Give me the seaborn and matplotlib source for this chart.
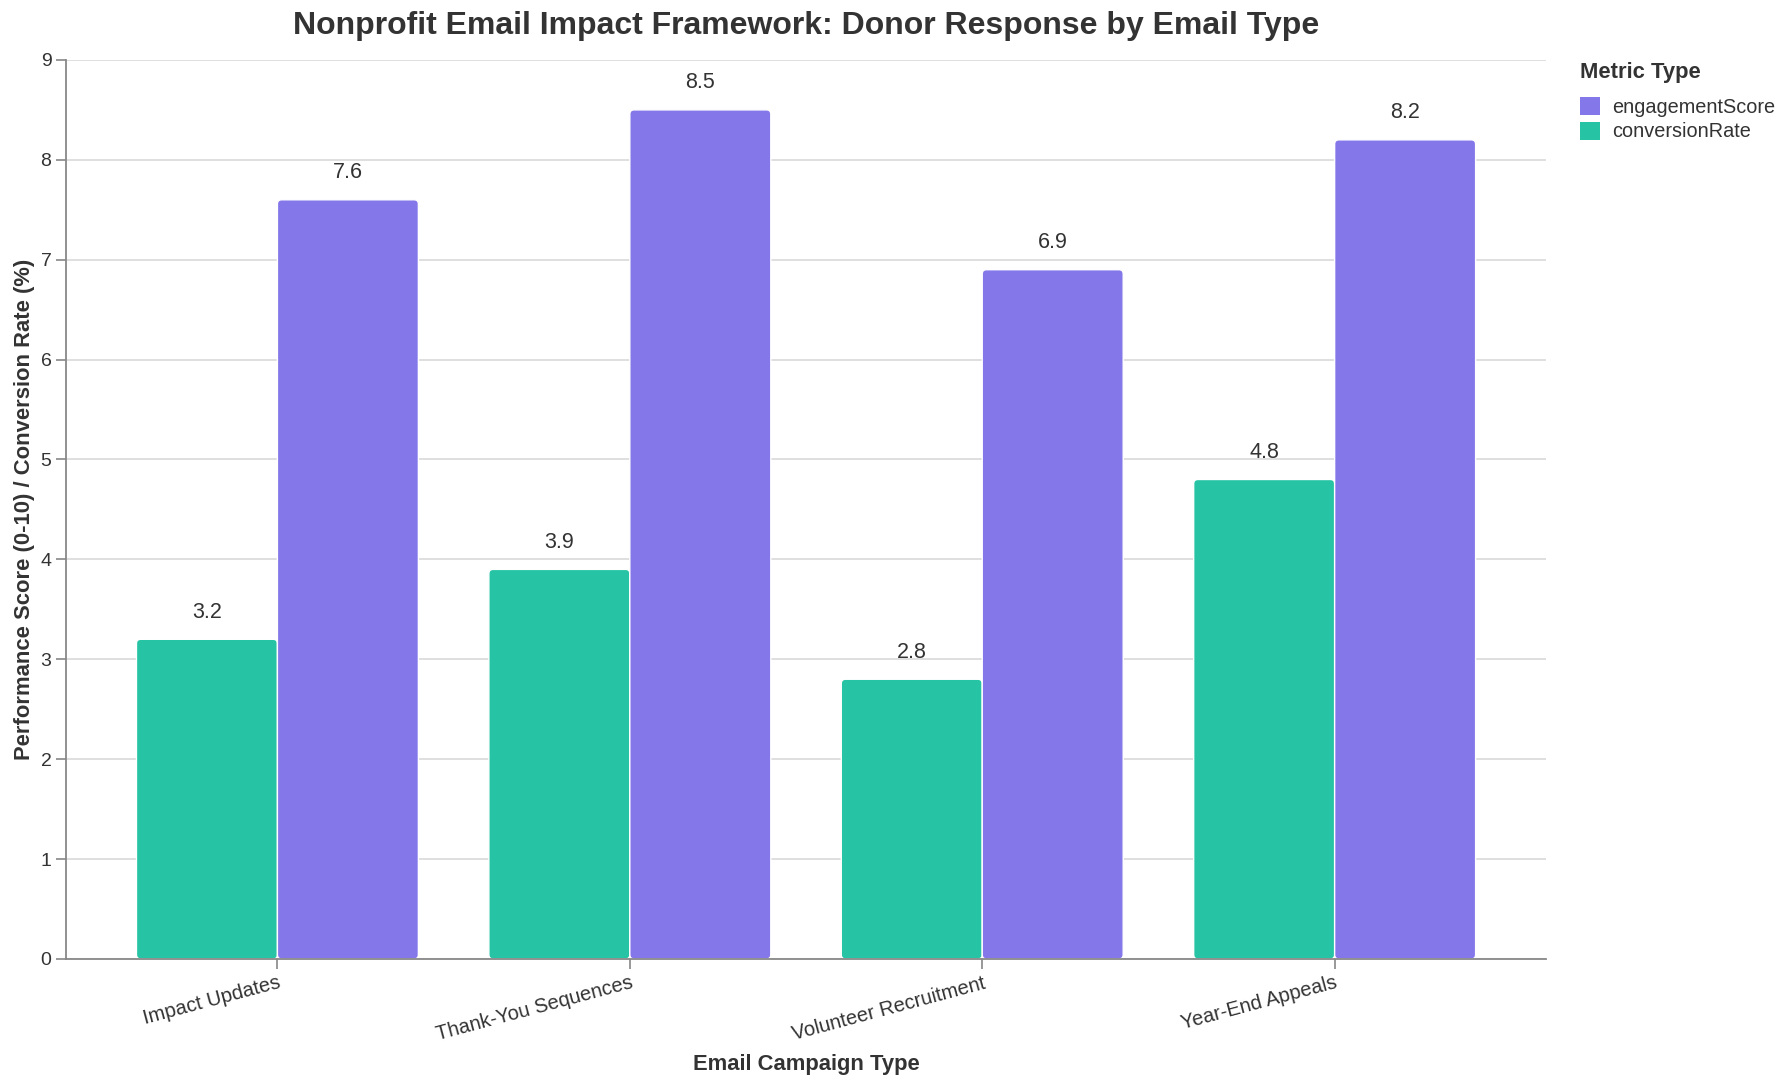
import matplotlib
matplotlib.use("Agg")
import matplotlib.pyplot as plt
import seaborn as sns
import pandas as pd
from matplotlib.patches import Patch, FancyBboxPatch

categories = ["Impact Updates", "Thank-You Sequences", "Volunteer Recruitment", "Year-End Appeals"]
engagement_score = [7.6, 8.5, 6.9, 8.2]
conversion_rate = [3.2, 3.9, 2.8, 4.8]
metrics = ["conversionRate", "engagementScore"]
legend_order = ["engagementScore", "conversionRate"]
colors = {"engagementScore": "#8477EA", "conversionRate": "#26C4A5"}

df = pd.DataFrame({
    "category": categories * 2,
    "metric": ["conversionRate"] * len(categories) + ["engagementScore"] * len(categories),
    "value": conversion_rate + engagement_score,
})

sns.set_theme(style="white")
plt.rcParams["font.family"] = ["Liberation Sans", "DejaVu Sans"]

fig = plt.figure(figsize=(17.88, 10.86), dpi=100)
ax = fig.add_axes([0.0369, 0.117, 0.8278, 0.8278])

sns.barplot(data=df, x="category", y="value", hue="metric", hue_order=metrics,
            order=categories, palette=colors, width=0.8, ax=ax,
            edgecolor="white", linewidth=1, saturation=1, legend=False)

ax.set_ylim(0, 9)
ax.set_xlim(-0.6, len(categories) - 0.4)

# rounded corners on bars
for p in list(ax.patches):
    x, y = p.get_x(), p.get_y()
    w, h = p.get_width(), p.get_height()
    fc = p.get_facecolor()
    fb = FancyBboxPatch((x, y), w, h, boxstyle="round,pad=0,rounding_size=0.012",
                        mutation_aspect=3.5, facecolor=fc, edgecolor="white",
                        linewidth=1, zorder=p.get_zorder())
    p.set_visible(False)
    ax.add_patch(fb)

ax.set_yticks(range(0, 10))
ax.yaxis.grid(True, color="#d9d9d9", linewidth=1.2)
ax.set_axisbelow(True)
for s in ["top", "right"]:
    ax.spines[s].set_visible(False)
for s in ["left", "bottom"]:
    ax.spines[s].set_color("#888888")
    ax.spines[s].set_linewidth(1.3)
    ax.spines[s].set_zorder(5)
ax.tick_params(axis="both", which="both", length=7, color="#888888", width=1.2,
               labelsize=14, labelcolor="#333333", bottom=True, left=True)
plt.setp(ax.get_xticklabels(), rotation=15, ha="right", rotation_mode="anchor", fontsize=14.5)

for cont in ax.containers:
    ax.bar_label(cont, fmt="%.1f", padding=12, fontsize=15.5, color="#333333")

ax.set_xlabel("Email Campaign Type", fontsize=15.8, fontweight="bold", color="#333333", labelpad=7)
ax.set_ylabel("Performance Score (0-10) / Conversion Rate (%)", fontsize=15.8,
              fontweight="bold", color="#333333", labelpad=4)
fig.suptitle("Nonprofit Email Impact Framework: Donor Response by Email Type",
             x=0.451, y=0.99, fontsize=23, fontweight="bold", color="#333333")

handles = [Patch(facecolor=colors[m], edgecolor="none") for m in legend_order]
leg = fig.legend(handles, legend_order, title="Metric Type", loc="upper left",
                 bbox_to_anchor=(0.8795, 0.95), frameon=False, fontsize=14.3,
                 title_fontproperties={"weight": "bold", "size": 15.8},
                 handlelength=1.0, handleheight=1.0, handletextpad=0.6,
                 labelspacing=0.25, borderaxespad=0)
leg._legend_box.align = "left"
leg._legend_box.sep = 10
for t in leg.get_texts():
    t.set_color("#333333")
leg.get_title().set_color("#333333")

fig.savefig("out.png", dpi=100)
